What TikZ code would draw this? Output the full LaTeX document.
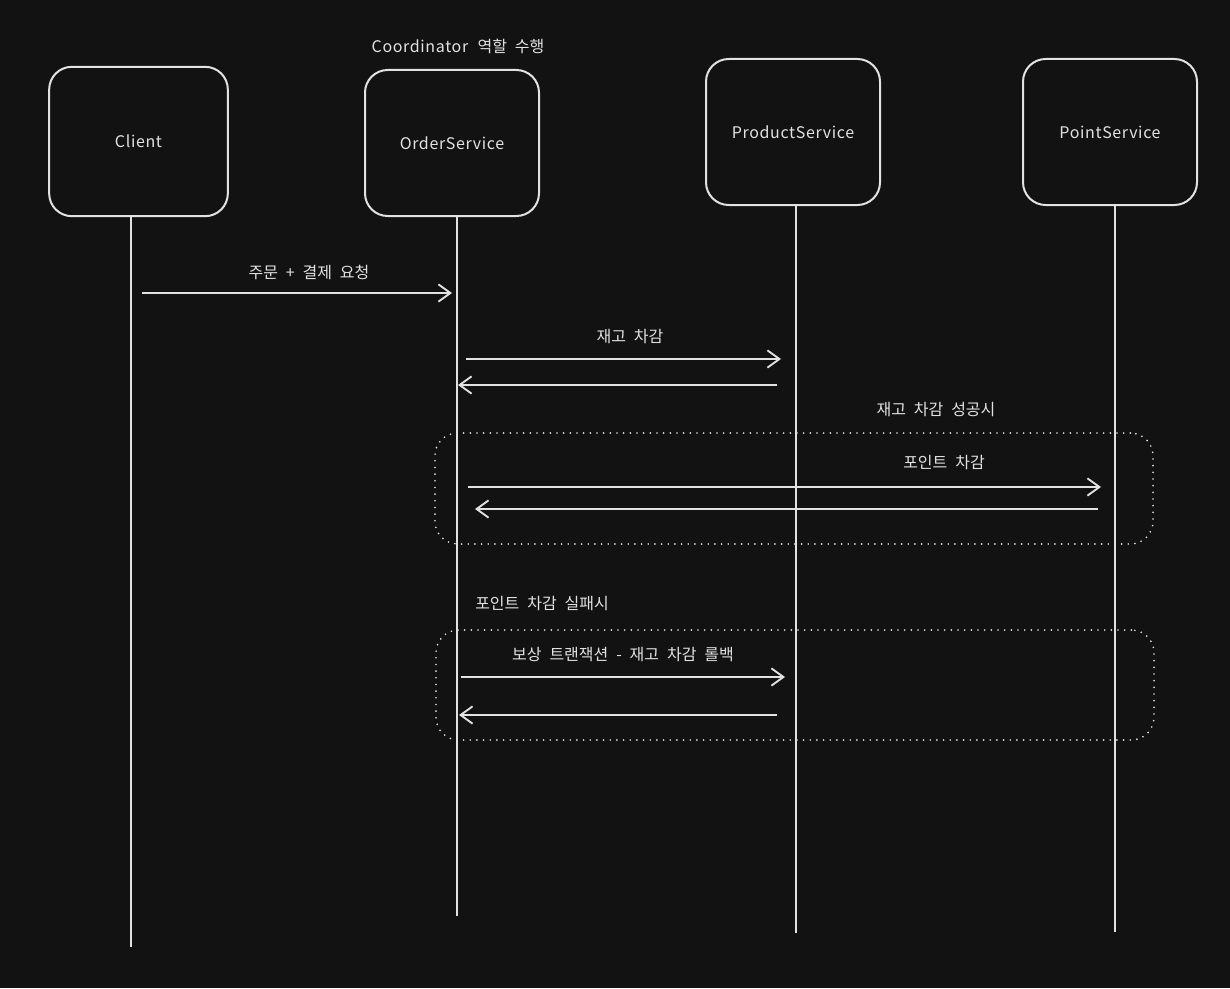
\documentclass[tikz,border=0pt]{standalone}
\usepackage{fontspec}
\setmainfont[WordSpace=2.2]{Noto Sans CJK KR}
\usetikzlibrary{arrows.meta}
\definecolor{bgcol}{HTML}{121212}
\definecolor{ink}{HTML}{E2E2E2}
\tikzset{
  actor/.style={draw=ink, line width=1.5pt, rounded corners=17pt, fill=bgcol, text=ink,
    font=\fontsize{12}{14}\selectfont\addfontfeature{LetterSpace=4}, inner sep=0pt},
  life/.style={draw=ink, line width=1.2pt},
  msg/.style={draw=ink, line width=1.7pt,
    -{Straight Barb[length=9pt,width=13pt,line width=1.4pt]}},
  lbl/.style={text=ink, font=\fontsize{12}{14}\selectfont, inner sep=0pt},
  grp/.style={draw=ink, line width=1.4pt, line cap=round, dash pattern=on 0pt off 5pt,
    rounded corners=17pt, inner sep=0pt}
}
\begin{document}
\begin{tikzpicture}[x=0.75pt,y=-0.75pt]
\useasboundingbox[fill=bgcol] (0,0) rectangle (1230,988);
% participants
\node[actor, minimum width=134pt, minimum height=112pt] (cl) at (138.5,141.5) {Client};
\node[actor, minimum width=130.5pt, minimum height=109.5pt] (os) at (452,143) {OrderService};
\node[actor, minimum width=130.5pt, minimum height=109.5pt] (ps) at (793,132) {ProductService};
\node[actor, minimum width=130.5pt, minimum height=109.5pt] (pt) at (1110,132) {PointService};
\node[lbl] (coord) at (458,46) {\addfontfeature{LetterSpace=4}Coordinator \addfontfeature{LetterSpace=0}역할 수행};
% lifelines
\coordinate (clend) at (131,947);
\coordinate (osend) at (457,916);
\coordinate (psend) at (796,933);
\coordinate (ptend) at (1115,932);
\draw[life] (cl.south -| clend) -- (clend);
\draw[life] (os.south -| osend) -- (osend);
\draw[life] (ps.south -| psend) -- (psend);
\draw[life] (pt.south -| ptend) -- (ptend);
% groups
\node[grp, minimum width=538.5pt, minimum height=83.25pt] (okgrp) at (794,488.5) {};
\node[grp, minimum width=538.5pt, minimum height=82.5pt] (failgrp) at (795,685) {};
\node[lbl] (okl) at (936,410) {재고 차감 성공시};
\node[lbl, anchor=west] (faill) at (475,604) {포인트 차감 실패시};
% messages
\coordinate (m1a) at (142,293); \coordinate (m1b) at (452,293);
\coordinate (m2a) at (466,359); \coordinate (m2b) at (781,359);
\coordinate (m3a) at (777,385); \coordinate (m3b) at (458,385);
\coordinate (m4a) at (468,487); \coordinate (m4b) at (1101,487);
\coordinate (m5a) at (1098,509); \coordinate (m5b) at (475,509);
\coordinate (m6a) at (461,677); \coordinate (m6b) at (785,677);
\coordinate (m7a) at (777,715); \coordinate (m7b) at (459,715);
\draw[msg] (m1a) -- (m1b);
\draw[msg] (m2a) -- (m2b);
\draw[msg] (m3a) -- (m3b);
\draw[msg] (m4a) -- (m4b);
\draw[msg] (m5a) -- (m5b);
\draw[msg] (m6a) -- (m6b);
\draw[msg] (m7a) -- (m7b);
\node[lbl] (m1l) at (309,272) {주문 + 결제 요청};
\node[lbl] (m2l) at (630,337) {재고 차감};
\node[lbl] (m4l) at (944,463) {포인트 차감};
\node[lbl] (m6l) at (623,654) {보상 트랜잭션 - 재고 차감 롤백};
\end{tikzpicture}
\end{document}
